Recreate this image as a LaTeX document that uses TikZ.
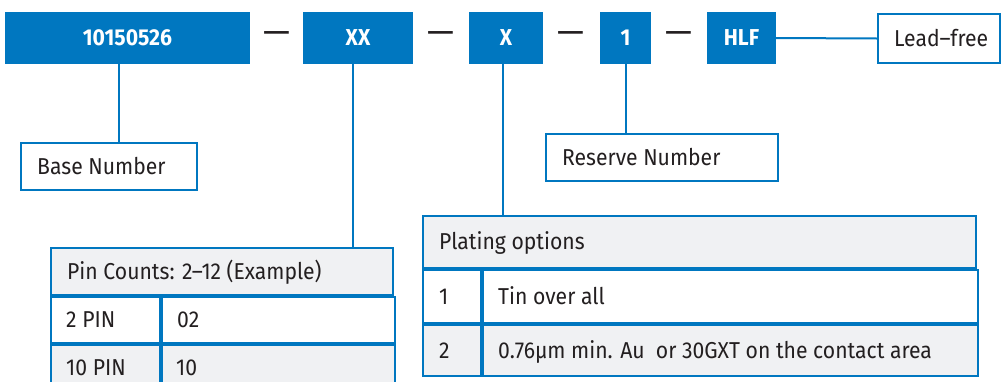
\documentclass[tikz,border=0pt]{standalone}
\usepackage{fontspec}
\setmainfont{Fira Sans}[FakeStretch=0.92]
\newfontfamily\dashfont{Fira Sans}
\definecolor{mblue}{HTML}{0077C0}
\definecolor{mgray}{HTML}{F0F1F3}
\definecolor{mtext}{HTML}{231F20}
\begin{document}
\begin{tikzpicture}[x=1pt,y=-1pt,
  topbox/.style={fill=mblue, draw=none, text=white, font=\fontsize{23}{27}\selectfont\bfseries, inner sep=0pt},
  outbox/.style={draw=mblue, line width=2pt, fill=white, inner sep=0pt, anchor=north west},
  cell/.style={draw=mblue, line width=2pt, inner sep=0pt, anchor=north west},
  txt/.style={anchor=base west, inner sep=0pt, font=\fontsize{23}{27}\selectfont, text=mtext},
  dashtxt/.style={inner sep=0pt, font=\dashfont\fontsize{34}{40}\selectfont, text=mtext},
  conn/.style={draw=mblue, line width=2pt}]
\useasboundingbox (0,0) rectangle (1001,381);
\clip (0,0) rectangle (1001,381);
% top row
\node[topbox, minimum width=245pt, minimum height=52pt] (b1) at (127.5,38) {10150526};
\node[topbox, minimum width=110pt, minimum height=52pt] (b2) at (358,38) {XX};
\node[topbox, minimum width=74pt, minimum height=52pt] (b3) at (506,38) {X};
\node[topbox, minimum width=51pt, minimum height=52pt] (b4) at (625.5,38) {1};
\node[topbox, minimum width=69pt, minimum height=52pt] (b5) at (741.5,38) {HLF};
\node[dashtxt] (d1) at (277,38) {—};
\node[dashtxt] (d2) at (441,38) {—};
\node[dashtxt] (d3) at (571,38) {—};
\node[dashtxt] (d4) at (679,38) {—};
% lead-free
\node[outbox, minimum width=122pt, minimum height=49pt] (lf) at (877,13) {};
\node[txt] (lft) at ([xshift=17pt,yshift=-7.9pt]lf.west) {Lead–free};
\draw[conn] (b5.east) -- (lf.west);
% base number
\node[outbox, minimum width=176pt, minimum height=47pt] (bn) at (20,142) {};
\node[txt] (bnt) at ([xshift=17pt,yshift=-7.9pt]bn.west) {Base Number};
\draw[conn] (119,64) coordinate (c1) -- (c1 |- bn.north);
% reserve number
\node[outbox, minimum width=232pt, minimum height=47pt] (rn) at (545,133) {};
\node[txt] (rnt) at ([xshift=17pt,yshift=-7.9pt]rn.west) {Reserve Number};
\draw[conn] (b4.south) -- (b4.south |- rn.north);
% pin count table
\node[cell, fill=mgray, minimum width=342pt, minimum height=47pt] (ph) at (50,247) {};
\node[txt] at ([xshift=17pt,yshift=-7.9pt]ph.west) {Pin Counts: 2–12 (Example)};
\node[cell, fill=white, minimum width=109pt, minimum height=46pt] (p1a) at (ph.south west) {};
\node[cell, fill=white, minimum width=233pt, minimum height=46pt] (p1b) at (p1a.north east) {};
\node[cell, fill=mgray, minimum width=109pt, minimum height=46pt] (p2a) at (p1a.south west) {};
\node[cell, fill=mgray, minimum width=233pt, minimum height=46pt] (p2b) at (p2a.north east) {};
\node[txt] at ([xshift=16pt,yshift=-7.9pt]p1a.west) {2 PIN};
\node[txt] at ([xshift=16pt,yshift=-7.9pt]p1b.west) {02};
\node[txt] at ([xshift=16pt,yshift=-7.9pt]p2a.west) {10 PIN};
\node[txt] at ([xshift=15pt,yshift=-7.9pt]p2b.west) {10};
\draw[conn] (353,64) coordinate (c2) -- (c2 |- ph.north);
% plating table
\node[cell, fill=mgray, minimum width=553pt, minimum height=52pt] (qh) at (422,215) {};
\node[txt] at ([xshift=17pt,yshift=-7.9pt]qh.west) {Plating options};
\node[cell, fill=white, minimum width=58pt, minimum height=53pt] (q1a) at (qh.south west) {};
\node[cell, fill=white, minimum width=495pt, minimum height=53pt] (q1b) at (q1a.north east) {};
\node[cell, fill=mgray, minimum width=58pt, minimum height=51pt] (q2a) at (q1a.south west) {};
\node[cell, fill=mgray, minimum width=495pt, minimum height=51pt] (q2b) at (q2a.north east) {};
\node[txt] at ([xshift=17pt,yshift=-7.9pt]q1a.west) {1};
\node[txt] at ([xshift=16pt,yshift=-7.9pt]q1b.west) {Tin over all};
\node[txt] at ([xshift=17pt,yshift=-7.9pt]q2a.west) {2};
\node[txt] at ([xshift=16pt,yshift=-7.9pt]q2b.west) {0.76µm min. Au\ \ or 30GXT on the contact area};
\draw[conn] (503,64) coordinate (c3) -- (c3 |- qh.north);
\end{tikzpicture}
\end{document}
